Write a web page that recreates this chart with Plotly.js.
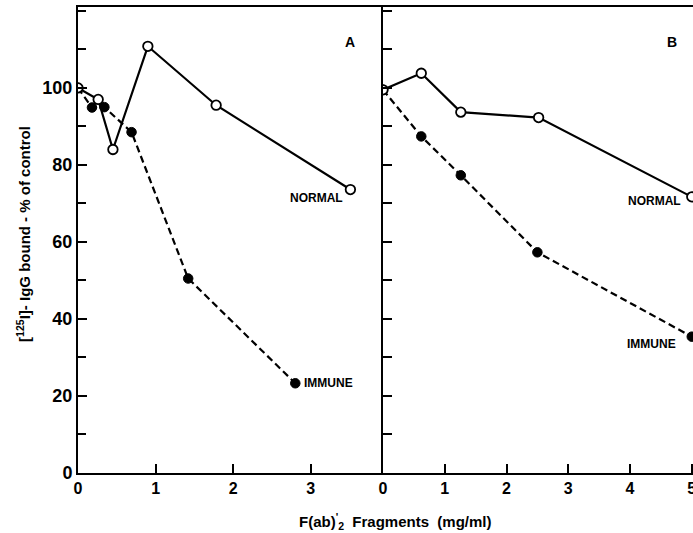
<!DOCTYPE html>
<html>
<head>
<meta charset="utf-8">
<script src="https://cdn.plot.ly/plotly-3.0.1.min.js"></script>
<style>html,body{margin:0;padding:0;background:#fff;}#chart{width:693px;height:533px;}</style>
</head>
<body>
<div id="chart"></div>
<script>
// Panel A
const normalA_x = [0, 0.26, 0.45, 0.90, 1.78, 3.51];
const normalA_y = [100, 97, 84, 110.8, 95.5, 73.6];
const immuneA_x = [0, 0.18, 0.34, 0.69, 1.42, 2.80];
const immuneA_y = [100, 94.9, 95, 88.5, 50.5, 23.3];
// Panel B
const normalB_x = [0, 0.62, 1.26, 2.52, 5.0];
const normalB_y = [99.5, 103.8, 93.7, 92.3, 71.7];
const immuneB_x = [0, 0.62, 1.26, 2.50, 5.0];
const immuneB_y = [99.5, 87.4, 77.3, 57.3, 35.4];

const xTicksA = [0, 1, 2, 3];
const xTicksB = [0, 1, 2, 3, 4, 5];
const yTicks = [0, 20, 40, 60, 80, 100];

const FONT = 'Liberation Sans, Arial, sans-serif';
const openMarker = {symbol: 'circle', size: 9.5, color: '#fff', line: {color: '#000', width: 1.8}};
const fillMarker = {symbol: 'circle', size: 9.5, color: '#000', line: {color: '#000', width: 1}};

const traces = [
  {x: immuneA_x, y: immuneA_y, xaxis: 'x', yaxis: 'y', mode: 'lines+markers',
   line: {color: '#000', width: 2.2, dash: '7px,4px'}, marker: fillMarker, name: 'IMMUNE A'},
  {x: normalA_x, y: normalA_y, xaxis: 'x', yaxis: 'y', mode: 'lines+markers',
   line: {color: '#000', width: 2.2}, marker: openMarker, name: 'NORMAL A'},
  {x: immuneB_x, y: immuneB_y, xaxis: 'x2', yaxis: 'y2', mode: 'lines+markers',
   line: {color: '#000', width: 2.2, dash: '7px,4px'}, marker: fillMarker, name: 'IMMUNE B'},
  {x: normalB_x, y: normalB_y, xaxis: 'x2', yaxis: 'y2', mode: 'lines+markers',
   line: {color: '#000', width: 2.2}, marker: openMarker, name: 'NORMAL B'}
];

const split = (383 - 78) / 615;
const axisCommon = {showline: true, linecolor: '#000', linewidth: 2, ticks: 'inside', ticklen: 9,
  tickwidth: 2, tickcolor: '#000', showgrid: false, zeroline: false, fixedrange: true};

const layout = {
  width: 693, height: 533,
  margin: {l: 78, r: 0, t: 7, b: 60},
  paper_bgcolor: '#fff', plot_bgcolor: '#fff',
  showlegend: false,
  font: {family: FONT, color: '#000'},
  xaxis: Object.assign({}, axisCommon, {domain: [0, split], range: [0, 3.93], anchor: 'y',
    tickvals: xTicksA, ticktext: xTicksA.map(String), mirror: true,
    tickfont: {family: FONT, size: 16, weight: 'bold', color: '#000'}}),
  yaxis: Object.assign({}, axisCommon, {domain: [0, 1], range: [0, 121], anchor: 'x',
    tickvals: yTicks, ticktext: yTicks.map(String), mirror: false,
    minor: {dtick: 10, tick0: 0, ticks: 'inside', ticklen: 8, tickwidth: 2, tickcolor: '#000'},
    tickfont: {family: FONT, size: 18, weight: 'bold', color: '#000'}}),
  xaxis2: Object.assign({}, axisCommon, {domain: [split, 1], range: [0, 5.02], anchor: 'y2',
    tickvals: xTicksB, ticktext: xTicksB.map(String), mirror: true, ticklabeloverflow: 'allow',
    tickfont: {family: FONT, size: 16, weight: 'bold', color: '#000'}}),
  yaxis2: Object.assign({}, axisCommon, {domain: [0, 1], range: [0, 121], anchor: 'x2',
    dtick: 10, tick0: 0, showticklabels: false}),
  annotations: [
    {xref: 'x', yref: 'y', x: 3.50, y: 112, text: '<b>A</b>', showarrow: false, font: {size: 14}},
    {xref: 'x2', yref: 'y2', x: 4.68, y: 112, text: '<b>B</b>', showarrow: false, font: {size: 14}},
    {xref: 'x', yref: 'y', x: 3.07, y: 71.3, text: '<b>NORMAL</b>', showarrow: false, font: {size: 12}},
    {xref: 'x', yref: 'y', x: 3.23, y: 23.3, text: '<b>IMMUNE</b>', showarrow: false, font: {size: 12}},
    {xref: 'x2', yref: 'y2', x: 4.39, y: 70.6, text: '<b>NORMAL</b>', showarrow: false, font: {size: 12}},
    {xref: 'x2', yref: 'y2', x: 4.34, y: 33.6, text: '<b>IMMUNE</b>', showarrow: false, font: {size: 12}},
    {xref: 'paper', yref: 'paper', x: (395 - 78) / 615, y: -0.105, yanchor: 'middle',
     text: '<b>F(ab)<sup>\'</sup><sub>2</sub>  Fragments  (mg/ml)</b>', showarrow: false, font: {size: 15}},
    {xref: 'paper', yref: 'paper', x: -0.088, y: (473 - 234) / 466, xanchor: 'center', yanchor: 'middle',
     textangle: -90, text: '<b>[<sup>125</sup>I]- IgG bound - % of control</b>', showarrow: false, font: {size: 15}}
  ]
};

Plotly.newPlot('chart', traces, layout, {staticPlot: true, displayModeBar: false});
</script>
</body>
</html>
